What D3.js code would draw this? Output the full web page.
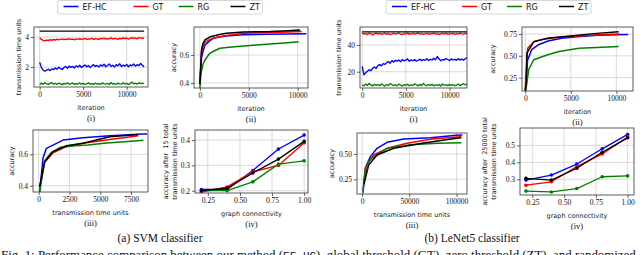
<!DOCTYPE html>
<html lang="en">
<head>
<meta charset="UTF-8">
<title>EF-HC comparison</title>
<script src="https://cdn.jsdelivr.net/npm/d3@7"></script>
<style>
  body { margin: 0; background: #fff; }
  svg { display: block; }
  .tick text { font-family: "Liberation Serif", serif; font-size: 7.5px; fill: #111; }
  .lbl { font-family: "DejaVu Sans", sans-serif; font-size: 6.5px; fill: #222; }
  .tag { font-family: "Liberation Serif", serif; font-size: 8.5px; fill: #111; }
  .legend text { font-family: "DejaVu Sans", sans-serif; font-size: 8px; fill: #111; }
  .cap { font-family: "Liberation Serif", serif; font-size: 11.5px; fill: #111; }
  .fig { font-family: "Liberation Serif", serif; font-size: 12.9px; fill: #111; }
  .mono { font-family: "Liberation Mono", monospace; font-size: 11px; }
</style>
</head>
<body>
<svg id="fig" width="640" height="255"></svg>
<script>
// ---- data ----
const methods = ["EF-HC", "GT", "RG", "ZT"];
const colors = ["#0000ff", "#ff0000", "#008000", "#000000"];

// (i) transmission time per iteration, sampled every 200 iterations
const iterSteps = d3.range(0, 12001, 200);
const flatIter = [0, 12000];

const efA = [2.32,1.96,1.80,1.72,1.79,1.85,1.76,1.88,1.83,1.94,
             1.86,1.99,1.90,1.84,1.97,2.03,1.92,2.06,1.98,2.04,
             1.94,2.09,2.00,2.12,1.97,2.06,2.14,2.02,2.10,1.96,
             2.08,2.16,2.04,2.11,2.00,2.15,2.06,2.19,2.02,2.10,
             2.21,2.04,2.12,2.00,2.16,2.08,2.22,2.03,2.13,2.06,
             2.18,2.02,2.14,2.08,2.21,2.06,2.16,2.10,2.24,2.12,2.00];
const gtA = [3.95,3.84,3.77,3.74,3.80,3.76,3.83,3.78,3.85,3.80,
             3.86,3.81,3.84,3.88,3.82,3.87,3.83,3.89,3.84,3.86,
             3.82,3.88,3.85,3.90,3.84,3.87,3.91,3.85,3.88,3.86,
             3.92,3.85,3.89,3.87,3.84,3.91,3.88,3.93,3.86,3.90,
             3.88,3.94,3.87,3.91,3.89,3.85,3.92,3.88,3.95,3.89,
             3.93,3.87,3.91,3.96,3.90,3.94,3.88,3.97,3.92,3.95,3.91];
const rgA = [0.82,0.93,0.86,0.95,0.88,0.84,0.91,0.96,0.86,0.92,
             0.85,0.93,0.88,0.83,0.91,0.87,0.95,0.85,0.89,0.93,
             0.84,0.90,0.87,0.94,0.86,0.91,0.85,0.88,0.95,0.86,
             0.90,0.84,0.93,0.87,0.89,0.85,0.94,0.88,0.86,0.92,
             0.84,0.97,0.87,0.90,0.85,0.93,0.88,0.86,0.95,0.87,
             0.91,0.85,0.90,1.00,0.88,0.93,0.86,0.96,0.89,0.93,0.90];
const ztA = [4.4, 4.4];

const efB = [24.0,17.6,19.2,20.3,21.4,20.8,22.6,23.5,22.4,24.6,
             25.3,24.4,26.1,25.5,26.8,27.6,26.4,28.3,27.2,28.6,
             27.9,28.8,27.4,29.2,28.1,28.7,29.6,27.8,28.9,28.2,
             29.1,27.9,28.6,29.4,28.3,29.0,28.5,29.8,28.4,29.3,
             28.8,30.1,29.0,31.4,29.5,28.2,29.2,28.7,29.9,29.0,
             28.4,29.6,28.9,29.3,28.5,29.8,28.8,29.4,28.6,29.7,30.6];
const gtB = [49.2,48.1,48.6,47.8,48.9,48.3,47.6,48.5,49.0,48.2,
             48.7,47.9,48.4,48.9,48.0,48.6,47.7,48.3,48.8,48.1,
             48.5,49.0,48.2,47.8,48.6,48.3,48.9,48.0,48.4,48.7,
             48.1,48.6,49.1,48.2,48.5,47.9,48.4,48.8,48.0,48.6,
             48.3,48.9,48.1,48.5,47.8,48.4,48.7,48.2,48.9,48.0,
             48.5,48.3,48.8,47.9,48.6,48.2,48.9,48.4,48.1,48.7,48.5];
const rgB = [10.2,9.4,10.8,9.7,11.3,10.1,9.3,10.6,9.8,10.4,
             9.5,10.9,10.0,9.2,10.5,9.7,11.1,10.3,9.6,10.2,
             9.4,10.7,9.9,9.3,10.4,9.8,10.6,9.5,10.1,9.7,
             10.9,10.2,9.4,10.5,9.6,11.2,10.0,9.5,10.3,9.8,
             10.6,9.4,10.1,9.7,10.4,9.3,10.8,9.9,10.2,9.6,
             10.5,9.8,10.3,9.5,10.0,10.7,9.6,10.4,11.0,10.2,10.6];
const ztB = [49.8, 49.8];

// (ii) accuracy vs iteration
const accIterA_x = [[0,170,300,510,1000,1400,2000,2700,4400,7000,9000,10900],
                    [0,170,300,510,1000,1370,2000,2730,4440,7170,9000,10400],
                    [0,100,300,510,1020,1500,2050,3000,4440,7170,9000,10100],
                    [0,170,300,510,1000,1370,2000,2730,4440,7170,9000,10250]];
const accIterA_y = [[0.40,0.58,0.62,0.67,0.70,0.72,0.728,0.735,0.745,0.748,0.750,0.752],
                    [0.40,0.62,0.66,0.69,0.71,0.72,0.73,0.74,0.755,0.76,0.764,0.768],
                    [0.36,0.46,0.53,0.564,0.612,0.63,0.648,0.655,0.664,0.679,0.688,0.695],
                    [0.39,0.636,0.68,0.707,0.728,0.736,0.746,0.755,0.764,0.767,0.773,0.779]];
const accIterB_x = [[0,100,250,700,1500,2500,4000,6000,8000,11300],
                    [0,100,260,1000,2000,3500,5000,8000,10400],
                    [0,100,370,920,2380,3700,5900,7870,10250],
                    [0,100,180,920,2380,4940,7870,10250]];
const accIterB_y = [[0.10,0.20,0.45,0.57,0.63,0.67,0.70,0.72,0.735,0.745],
                    [0.12,0.30,0.587,0.665,0.69,0.71,0.72,0.74,0.75],
                    [0.08,0.133,0.34,0.455,0.51,0.55,0.587,0.595,0.606],
                    [0.10,0.20,0.53,0.66,0.70,0.727,0.757,0.776]];

// (iii) accuracy vs transmission time units
const accTimeA_x = [[80,350,627,1165,1980,3600,5780,8500,8800],
                    [80,490,1165,2250,3600,5780,8090],
                    [80,490,1000,1800,3000,4000,5500,7000,8500],
                    [80,490,1165,2250,3600,5780,8090]];
const accTimeA_y = [[0.358,0.575,0.638,0.659,0.691,0.706,0.718,0.729,0.730],
                    [0.39,0.55,0.61,0.65,0.67,0.695,0.718],
                    [0.36,0.56,0.61,0.645,0.655,0.66,0.672,0.68,0.69],
                    [0.394,0.553,0.617,0.655,0.67,0.712,0.727]];
const accTimeB_x = [[1000,3500,8800,15900,26500,44000,72300,100000,106000],
                    [2000,5300,12300,26500,47700,72300,100000,105000],
                    [1000,3500,8800,26500,51000,80000,105000],
                    [2000,7000,15900,33500,63500,100000,105000]];
const accTimeB_y = [[0.128,0.36,0.474,0.556,0.615,0.648,0.661,0.684,0.688],
                    [0.21,0.39,0.49,0.556,0.605,0.645,0.667,0.67],
                    [0.11,0.36,0.45,0.556,0.59,0.605,0.61],
                    [0.20,0.39,0.49,0.556,0.605,0.655,0.66]];

// (iv) accuracy vs graph connectivity
const connectivity = [0.2, 0.4, 0.6, 0.8, 1.0];
const connA = [[0.205,0.205,0.28,0.365,0.42],
               [0.195,0.215,0.275,0.30,0.39],
               [0.20,0.20,0.235,0.305,0.318],
               [0.20,0.21,0.27,0.325,0.395]];
const connB = [[0.295,0.325,0.39,0.48,0.565],
               [0.265,0.285,0.375,0.45,0.55],
               [0.23,0.225,0.245,0.315,0.32],
               [0.305,0.295,0.365,0.46,0.545]];

// ---- layout ----
const zip = (xs, ys) => xs.map((x, i) => [x, ys[i]]);
const svg = d3.select("#fig");

const panels = [
  {box:[34,27,148,87], xd:[-650,12450], yd:[0.67,4.67], xt:[0,5000,10000], yt:[2,4], yfmt:d3.format("d"),
   xl:"iteration", yl:["transmission time units"], ylx:[19], tag:"(i)",
   series:[zip(iterSteps,efA), zip(iterSteps,gtA), zip(iterSteps,rgA), zip(flatIter,ztA)], lw:1.35},
  {box:[194,27,308,88], xd:[-600,11060], yd:[0.364,0.80], xt:[0,5000,10000], yt:[0.4,0.6], yfmt:d3.format(".1f"),
   xl:"iteration", yl:["accuracy"], ylx:[174], tag:"(ii)",
   series:accIterA_x.map((xs,i) => zip(xs, accIterA_y[i])), lw:1.5},
  {box:[33,130,148,192], xd:[-460,8880], yd:[0.36,0.755], xt:[0,2500,5000,7500], yt:[0.4,0.6], yfmt:d3.format(".1f"),
   xl:"transmission time units", yl:["accuracy"], ylx:[12], tag:"(iii)",
   series:accTimeA_x.map((xs,i) => zip(xs, accTimeA_y[i])), lw:1.5},
  {box:[195,130,308,193], xd:[0.15,1.03], yd:[0.191,0.44], xt:[0.25,0.5,0.75,1.0], yt:[0.2,0.3,0.4], yfmt:d3.format(".1f"),
   xfmt:d3.format(".2f"), xl:"graph connectivity", yl:["accuracy after\u00a0\u00a015 total","transmission time units"], ylx:[166,175], tag:"(iv)",
   series:connA.map(ys => zip(connectivity, ys)), lw:1.3, dots:true},
  {box:[360,27,467,88], xd:[-250,12000], yd:[7.8,53.5], xt:[0,5000,10000], yt:[20,40], yfmt:d3.format("d"),
   xl:"iteration", yl:["transmission time units"], ylx:[339], tag:"(i)",
   series:[zip(iterSteps,efB), zip(iterSteps,gtB), zip(iterSteps,rgB), zip(flatIter,ztB)], lw:1.35},
  {box:[522,27,633,91], xd:[-360,11830], yd:[0.097,0.83], xt:[0,5000,10000], yt:[0.25,0.5,0.75], yfmt:d3.format(".2f"),
   xl:"iteration", yl:["accuracy"], ylx:[493], tag:"(ii)",
   series:accIterB_x.map((xs,i) => zip(xs, accIterB_y[i])), lw:1.5},
  {box:[357,133,467,194], xd:[-5300,111000], yd:[0.105,0.707], xt:[0,50000,100000], yt:[0.25,0.5], yfmt:d3.format(".2f"),
   xl:"transmission time units", yl:["accuracy"], ylx:[332], tag:"(iii)",
   series:accTimeB_x.map((xs,i) => zip(xs, accTimeB_y[i])), lw:1.5},
  {box:[520,128,634,195], xd:[0.153,1.05], yd:[0.207,0.603], xt:[0.25,0.5,0.75,1.0], yt:[0.3,0.4,0.5], yfmt:d3.format(".1f"),
   xfmt:d3.format(".2f"), xl:"graph connectivity", yl:["accuracy after\u00a0\u00a025000 total","transmission time units"], ylx:[485,494], tag:"(iv)",
   series:connB.map(ys => zip(connectivity, ys)), lw:1.3, dots:true}
];

panels.forEach(p => {
  const [l, t, r, b] = p.box;
  const x = d3.scaleLinear().domain(p.xd).range([l, r]);
  const y = d3.scaleLinear().domain(p.yd).range([b, t]);
  const g = svg.append("g");

  // grid
  g.append("g").selectAll("line").data(p.xt).join("line")
    .attr("x1", d => x(d)).attr("x2", d => x(d)).attr("y1", t).attr("y2", b)
    .attr("stroke", "#d0d0d0").attr("stroke-width", 0.8);
  g.append("g").selectAll("line").data(p.yt).join("line")
    .attr("y1", d => y(d)).attr("y2", d => y(d)).attr("x1", l).attr("x2", r)
    .attr("stroke", "#d0d0d0").attr("stroke-width", 0.8);

  // axes
  const xa = d3.axisBottom(x).tickValues(p.xt).tickSize(3).tickPadding(2)
    .tickFormat(p.xfmt || d3.format("d"));
  const ya = d3.axisLeft(y).tickValues(p.yt).tickSize(3).tickPadding(2).tickFormat(p.yfmt);
  g.append("g").attr("transform", `translate(0,${b})`).call(xa)
    .call(s => s.select(".domain").remove())
    .call(s => s.selectAll(".tick line").attr("stroke", "#222").attr("stroke-width", 0.7));
  g.append("g").attr("transform", `translate(${l},0)`).call(ya)
    .call(s => s.select(".domain").remove())
    .call(s => s.selectAll(".tick line").attr("stroke", "#222").attr("stroke-width", 0.7));

  // lines
  const line = d3.line().x(d => x(d[0])).y(d => y(d[1]));
  const clipId = "clip" + l + "_" + t;
  svg.append("clipPath").attr("id", clipId).append("rect")
    .attr("x", l).attr("y", t).attr("width", r - l).attr("height", b - t);
  const lg = g.append("g").attr("clip-path", `url(#${clipId})`);
  p.series.forEach((s, i) => {
    lg.append("path").datum(s).attr("d", line)
      .attr("fill", "none").attr("stroke", colors[i]).attr("stroke-width", p.lw)
      .attr("stroke-linejoin", "round");
    if (p.dots) {
      lg.selectAll(null).data(s).join("circle")
        .attr("cx", d => x(d[0])).attr("cy", d => y(d[1])).attr("r", 1.8)
        .attr("fill", colors[i]);
    }
  });

  // frame
  g.append("rect").attr("x", l).attr("y", t).attr("width", r - l).attr("height", b - t)
    .attr("fill", "none").attr("stroke", "#333").attr("stroke-width", 0.8);

  // labels
  const cx = (l + r) / 2;
  g.append("text").attr("class", "lbl").attr("x", cx).attr("y", b + 22.5)
    .attr("text-anchor", "middle").text(p.xl);
  g.append("text").attr("class", "tag").attr("x", cx).attr("y", b + 33.5)
    .attr("text-anchor", "middle").text(p.tag);
  p.yl.forEach((txt, i) => {
    const lx = p.ylx[i] + 2, ly = (t + b) / 2;
    g.append("text").attr("class", "lbl")
      .attr("transform", `translate(${lx},${ly}) rotate(-90)`)
      .attr("text-anchor", "middle").text(txt);
  });
});

// legends
function legend(x0, items) {
  const g = svg.append("g").attr("class", "legend");
  g.append("rect").attr("x", x0).attr("y", 0.5).attr("width", 205).attr("height", 13.5)
    .attr("rx", 2).attr("fill", "#fff").attr("stroke", "#ccc").attr("stroke-width", 0.8);
  const offs = [0, 70, 115, 167];
  items.forEach((m, i) => {
    const ox = x0 + 6 + offs[i];
    g.append("line").attr("x1", ox).attr("x2", ox + 15).attr("y1", 6.5).attr("y2", 6.5)
      .attr("stroke", colors[i]).attr("stroke-width", 1.5);
    g.append("text").attr("x", ox + 19).attr("y", 9.5).text(m);
  });
}
legend(57.5, methods);
legend(386, methods);

// captions
svg.append("text").attr("class", "cap").attr("x", 160).attr("y", 242)
  .attr("text-anchor", "middle").text("(a) SVM classifier");
svg.append("text").attr("class", "cap").attr("x", 472).attr("y", 242)
  .attr("text-anchor", "middle").text("(b) LeNet5 classifier");
const fig = svg.append("text").attr("class", "fig").attr("x", 1).attr("y", 259);
fig.append("tspan").text("Fig. 1: Performance comparison between our method (");
fig.append("tspan").attr("class", "mono").text("EF-HC");
fig.append("tspan").text("), global threshold (GT), zero threshold (ZT), and randomized");
</script>
</body>
</html>
